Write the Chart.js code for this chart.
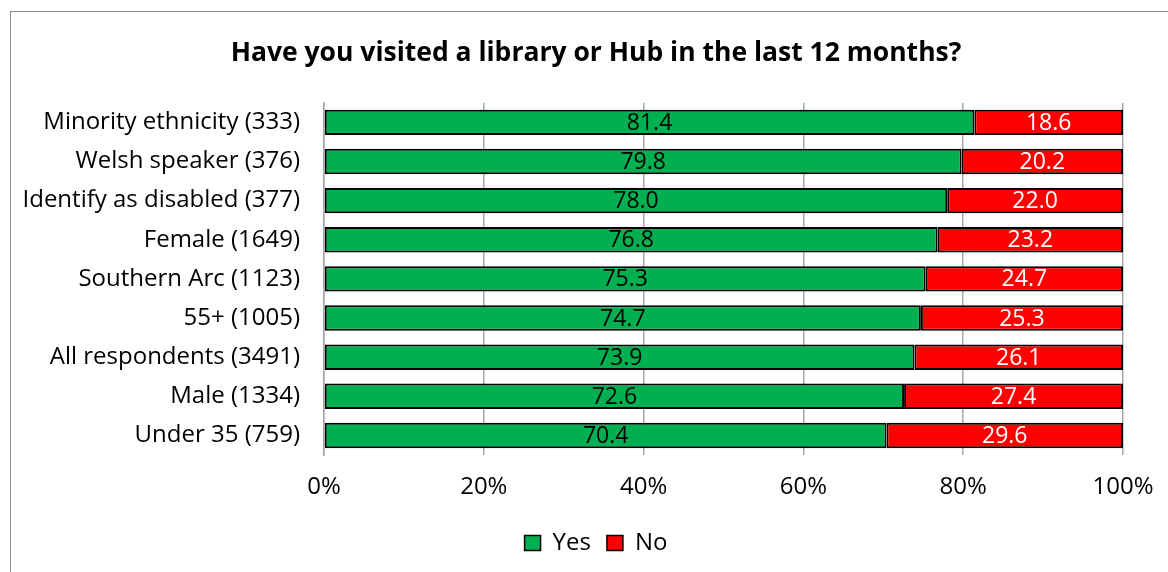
<!DOCTYPE html>
<html><head><meta charset="utf-8">
<script src="https://cdn.jsdelivr.net/npm/chart.js@4"></script>
<style>
html,body{margin:0;padding:0;background:#fff;}
#wrap{position:relative;width:1168px;height:572px;overflow:hidden;}
#frame{position:absolute;left:10px;top:11px;width:1200px;height:600px;border:1px solid #8c8c8c;box-sizing:border-box;}
canvas{position:absolute;left:0;top:0;}
</style></head>
<body><div id="wrap"><div id="frame"></div><canvas id="c" width="1168" height="572"></canvas></div>
<script>
const categories = ["Minority ethnicity (333)","Welsh speaker (376)","Identify as disabled (377)","Female (1649)","Southern Arc (1123)","55+ (1005)","All respondents (3491)","Male (1334)","Under 35 (759)"];
const yesValues = [81.4,79.8,78.0,76.8,75.3,74.7,73.9,72.6,70.4];
const noValues = [18.6,20.2,22.0,23.2,24.7,25.3,26.1,27.4,29.6];
const xTicks = [0,20,40,60,80,100];
const FONT = "'Open Sans', sans-serif";

const labelPlugin = {
  id:'barLabels',
  afterDatasetsDraw(chart){
    const ctx = chart.ctx;
    ctx.save();
    ctx.font = "23px " + FONT;
    ctx.textAlign = 'center';
    ctx.textBaseline = 'middle';
    chart.data.datasets.forEach((ds,i)=>{
      const meta = chart.getDatasetMeta(i);
      meta.data.forEach((bar,j)=>{
        const v = ds.data[j];
        const cx = (bar.x + bar.base)/2;
        ctx.fillStyle = ds.labelColor;
        ctx.fillText(v.toFixed(1), cx, bar.y+1);
      });
    });
    ctx.restore();
  }
};

new Chart(document.getElementById('c'), {
  type:'bar',
  data:{
    labels:categories,
    datasets:[
      {label:'Yes', data:yesValues, backgroundColor:'#00B050', borderColor:'#000', borderWidth:2, borderSkipped:false, labelColor:'#000'},
      {label:'No', data:noValues, backgroundColor:'#FF0000', borderColor:'#000', borderWidth:2, borderSkipped:false, labelColor:'#fff'}
    ]
  },
  options:{
    indexAxis:'y',
    responsive:false,
    animation:false,
    layout:{padding:{left:69,right:45,top:0,bottom:7}},
    categoryPercentage:0.65,
    barPercentage:1.0,
    plugins:{
      title:{display:true,text:'Have you visited a library or Hub in the last 12 months?',color:'#000',font:{family:FONT,size:26.5,weight:'bold',lineHeight:1.2},padding:{top:38,bottom:33}},
      legend:{position:'bottom',labels:{color:'#000',font:{family:FONT,size:24},boxWidth:16,boxHeight:15,padding:16,
        generateLabels(chart){return chart.data.datasets.map((d,i)=>({text:d.label,fillStyle:d.backgroundColor,strokeStyle:'#000',lineWidth:1.5,datasetIndex:i,fontColor:'#000'}));}}},
      tooltip:{enabled:false}
    },
    scales:{
      x:{stacked:true,min:0,max:100,
        afterBuildTicks(s){s.ticks = xTicks.map(v=>({value:v}));},
        afterFit(s){s.height=60; s.paddingLeft=0; s.paddingRight=0;},
        ticks:{color:'#000',font:{family:FONT,size:24},padding:18,callback:v=>v+'%'},
        grid:{color:'#A6A6A6',lineWidth:1.5,drawTicks:false},
        border:{display:false}
      },
      y:{stacked:true,
        afterFit(s){s.width=255; s._computeLabelArea = function(){return undefined;};},
        ticks:{color:'#000',font:{family:FONT,size:24},padding:24},
        grid:{display:false,drawTicks:false},
        border:{display:true,color:'#A6A6A6',width:1.5}
      }
    }
  },
  plugins:[labelPlugin]
});
</script></body></html>
